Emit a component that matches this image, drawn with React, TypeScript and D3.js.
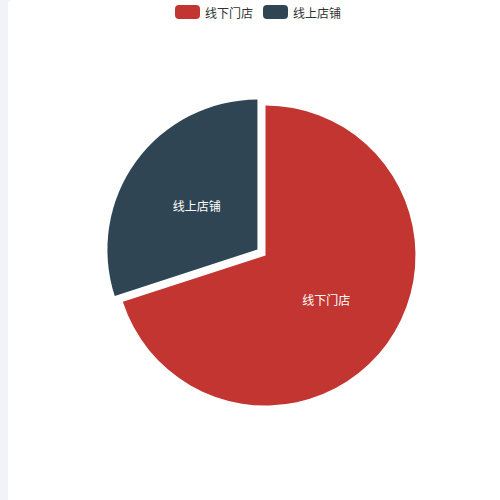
import React from "react";
import * as d3 from "d3";

const categories: string[] = ["线下门店", "线上店铺"];
const values: number[] = [70, 30];
const colors: string[] = ["#c23531", "#2f4554"];
const selected: boolean[] = [false, true];

const W = 500;
const H = 500;
const cx = 265.5;
const cy = 255.5;
const radius = 150;
const selectOffset = 10;

export default function App() {
  const pie = d3
    .pie<number>()
    .sort(null)
    .startAngle(0)
    .endAngle(Math.PI * 2)
    .value((d) => d);
  const arcs = pie(values);
  const arcGen = d3.arc<d3.PieArcDatum<number>>().innerRadius(0).outerRadius(radius);
  const labelArc = d3.arc<d3.PieArcDatum<number>>().innerRadius(radius / 2).outerRadius(radius / 2);

  // legend layout
  const itemW = 25;
  const itemH = 14;
  const gap = 5;
  const itemGap = 10;
  const fontSize = 12;
  const textWidths = categories.map((c) => c.length * fontSize);
  const itemWidths = textWidths.map((tw) => itemW + gap + tw);
  let lx = 175;
  const legendX: number[] = [];
  categories.forEach((_, i) => {
    legendX.push(lx);
    lx += itemWidths[i] + itemGap;
  });

  const font = "'Microsoft YaHei', 'Noto Sans CJK SC', sans-serif";

  return (
    <div style={{ position: "fixed", left: 0, top: 0, width: W, height: H, background: "#f2f3f8" }}>
      <svg width={W} height={H} style={{ display: "block" }}>
        <rect x={0} y={0} width={W} height={H} fill="#f2f3f8" />
        <rect x={8} y={0} width={W} height={H + 4} rx={4} fill="#ffffff" />

        {/* legend */}
        <g fontFamily={font} fontSize={fontSize}>
          {categories.map((c, i) => (
            <g key={c}>
              <rect x={legendX[i]} y={5} width={itemW} height={itemH} rx={4} fill={colors[i]} />
              <text x={legendX[i] + itemW + gap} y={12} dominantBaseline="central" fill="#333">
                {c}
              </text>
            </g>
          ))}
        </g>

        {/* pie */}
        <g transform={`translate(${cx},${cy})`}>
          {arcs.map((a, i) => {
            const mid = (a.startAngle + a.endAngle) / 2;
            const off = selected[i] ? selectOffset : 0;
            const dx = Math.sin(mid) * off;
            const dy = -Math.cos(mid) * off;
            const [lxp, lyp] = labelArc.centroid(a);
            return (
              <g key={categories[i]} transform={`translate(${dx},${dy})`}>
                <path d={arcGen(a) || ""} fill={colors[i]} />
                <text
                  x={lxp}
                  y={lyp}
                  textAnchor="middle"
                  dominantBaseline="central"
                  fill="#fff"
                  fontFamily={font}
                  fontSize={12}
                >
                  {categories[i]}
                </text>
              </g>
            );
          })}
        </g>
      </svg>
    </div>
  );
}
